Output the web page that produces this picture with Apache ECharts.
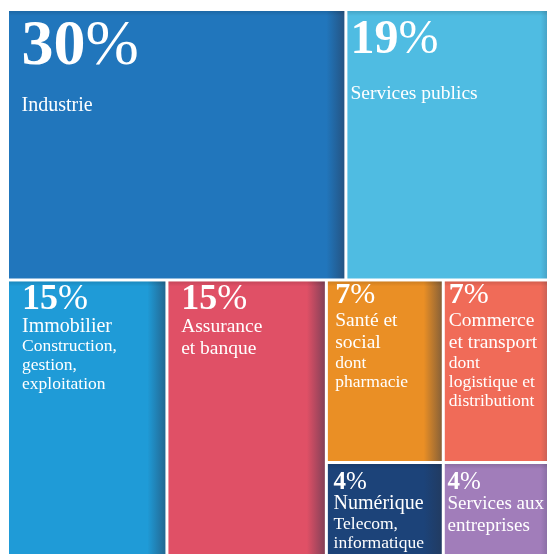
<!DOCTYPE html>
<html>
<head>
<meta charset="utf-8">
<script src="https://cdn.jsdelivr.net/npm/echarts@6/dist/echarts.min.js"></script>
<style>
  html, body { margin: 0; padding: 0; background: #ffffff; }
  #chart { width: 547px; height: 554px; }
</style>
</head>
<body>
<div id="chart"></div>
<script>
// Sector shares of the workforce (%)
const sectors = ['Industrie', 'Services publics', 'Immobilier', 'Assurance et banque',
  'Santé et social', 'Commerce et transport', 'Numérique', 'Services aux entreprises'];
const shares = [30, 19, 15, 15, 7, 7, 4, 4];
const nameLines = [
  ['Industrie'], ['Services publics'], ['Immobilier'], ['Assurance', 'et banque'],
  ['Santé et', 'social'], ['Commerce', 'et transport'], ['Numérique'], ['Services aux', 'entreprises']
];
const detailLines = [
  [], [], ['Construction,', 'gestion,', 'exploitation'], [],
  ['dont', 'pharmacie'], ['dont', 'logistique et', 'distributiont'], ['Telecom,', 'informatique'], []
];
const tileColors = ['#2176bc', '#4fbce2', '#1f9bd7', '#e05066', '#ea8f25', '#f06b58', '#1c4379', '#a17dba'];

// Arrangement: each row is split by share; a nested array is a stacked column
const rows = [[0, 1], [2, 3, [4, 6], [5, 7]]];

// Typography for each tile's label (offsets from the tile's top-left corner)
const labelStyles = [
  { inset: 12.5, pctSize: 64, pctBase: 57, nameSize: 20, nameBase: 101 },
  { inset: 3, pctSize: 48, pctBase: 45, nameSize: 19.5, nameBase: 89 },
  { inset: 13, pctSize: 36, pctBase: 30, nameSize: 20, nameBase: 51.5 },
  { inset: 12.7, pctSize: 36, pctBase: 30, nameSize: 19.5, nameBase: 51.5 },
  { inset: 7.4, pctSize: 30, pctBase: 23.8, nameSize: 19.5, nameBase: 45.8 },
  { inset: 4, pctSize: 30, pctBase: 23.8, nameSize: 19.5, nameBase: 45.8 },
  { inset: 5.7, pctSize: 25, pctBase: 26.5, nameSize: 20, nameBase: 46.5 },
  { inset: 2.7, pctSize: 25, pctBase: 26.5, nameSize: 19, nameBase: 46.5 }
];

const FONT = '"Liberation Serif", "Times New Roman", serif';
const DETAIL_SIZE = 17.5;
const NAME_STEP = 22;
const DETAIL_FIRST = 19.5;
const DETAIL_STEP = 19;
const MID = 0.32; // distance from text middle to baseline, in em

const total = v => v.reduce((a, b) => a + b, 0);
const weight = node => Array.isArray(node) ? total(node.map(weight)) : shares[node];

// Slice the unit square into tiles: rows by their summed share, tiles within a row by share
function layoutTiles() {
  const out = [];
  const all = total(rows.map(weight));
  let y = 0;
  rows.forEach(row => {
    const rowW = weight(row);
    const h = rowW / all;
    let x = 0;
    row.forEach(node => {
      const w = weight(node) / rowW;
      if (Array.isArray(node)) {
        let yy = y;
        const colW = weight(node);
        node.forEach(i => {
          const hh = h * shares[i] / colW;
          out.push([x, yy, x + w, yy + hh, i]);
          yy += hh;
        });
      } else {
        out.push([x, y, x + w, y + h, node]);
      }
      x += w;
    });
    y += h;
  });
  return out;
}

function mix(hex, target, k) {
  const a = parseInt(hex.slice(1), 16), b = parseInt(target.slice(1), 16);
  const ch = s => Math.round(((a >> s) & 255) * (1 - k) + ((b >> s) & 255) * k);
  return 'rgb(' + ch(16) + ',' + ch(8) + ',' + ch(0) + ')';
}

function renderItem(params, api) {
  const i = api.value(4);
  const p0 = api.coord([api.value(0), api.value(1)]);
  const p1 = api.coord([api.value(2), api.value(3)]);
  const gap = 1.5;
  const x = p0[0] + gap, y = p0[1] + gap;
  const w = p1[0] - p0[0] - 2 * gap, h = p1[1] - p0[1] - 2 * gap;
  const base = tileColors[i];
  const edge = Math.max(0.5, 1 - 18 / w);
  const ls = labelStyles[i];
  const tx = x + ls.inset;

  const children = [
    {
      type: 'rect', shape: { x, y, width: w, height: h },
      style: {
        fill: new echarts.graphic.LinearGradient(0, 0, 1, 0, [
          { offset: 0, color: base },
          { offset: edge, color: base },
          { offset: 1, color: mix(base, '#26324a', 0.5) }
        ])
      }
    },
    {
      type: 'rect', shape: { x, y, width: w, height: 5 },
      style: {
        fill: new echarts.graphic.LinearGradient(0, 0, 0, 1, [
          { offset: 0, color: 'rgba(0,0,0,0.12)' },
          { offset: 1, color: 'rgba(0,0,0,0)' }
        ])
      }
    },
    {
      type: 'text', x: tx, y: y + ls.pctBase - MID * ls.pctSize,
      style: {
        text: '{d|' + shares[i] + '}{s|%}',
        align: 'left', verticalAlign: 'middle',
        rich: {
          d: { fontFamily: FONT, fontWeight: 'bold', fontSize: ls.pctSize, fill: '#ffffff' },
          s: { fontFamily: FONT, fontWeight: 'normal', fontSize: ls.pctSize, fill: '#ffffff' }
        }
      }
    }
  ];

  let base0 = ls.nameBase;
  nameLines[i].forEach((line, k) => {
    const b = ls.nameBase + k * NAME_STEP;
    base0 = b;
    children.push({
      type: 'text', x: tx, y: y + b - MID * ls.nameSize,
      style: { text: line, fontFamily: FONT, fontSize: ls.nameSize, fill: '#ffffff', align: 'left', verticalAlign: 'middle' }
    });
  });
  detailLines[i].forEach((line, k) => {
    const b = base0 + DETAIL_FIRST + k * DETAIL_STEP;
    children.push({
      type: 'text', x: tx, y: y + b - MID * DETAIL_SIZE,
      style: { text: line, fontFamily: FONT, fontSize: DETAIL_SIZE, fill: '#ffffff', align: 'left', verticalAlign: 'middle' }
    });
  });

  return { type: 'group', children };
}

const chart = echarts.init(document.getElementById('chart'), null, { renderer: 'canvas' });
chart.setOption({
  animation: false,
  backgroundColor: '#ffffff',
  grid: { left: 7.5, top: 9.5, width: 552.7, height: 557.4, outerBoundsMode: 'none' },
  xAxis: { type: 'value', min: 0, max: 1, show: false },
  yAxis: { type: 'value', min: 0, max: 1, inverse: true, show: false },
  series: [{
    type: 'custom',
    name: 'Secteurs',
    data: layoutTiles(),
    dimensions: ['x0', 'y0', 'x1', 'y1', 'sector'],
    encode: { x: [0, 2], y: [1, 3] },
    renderItem: renderItem,
    clip: false
  }]
});
</script>
</body>
</html>
